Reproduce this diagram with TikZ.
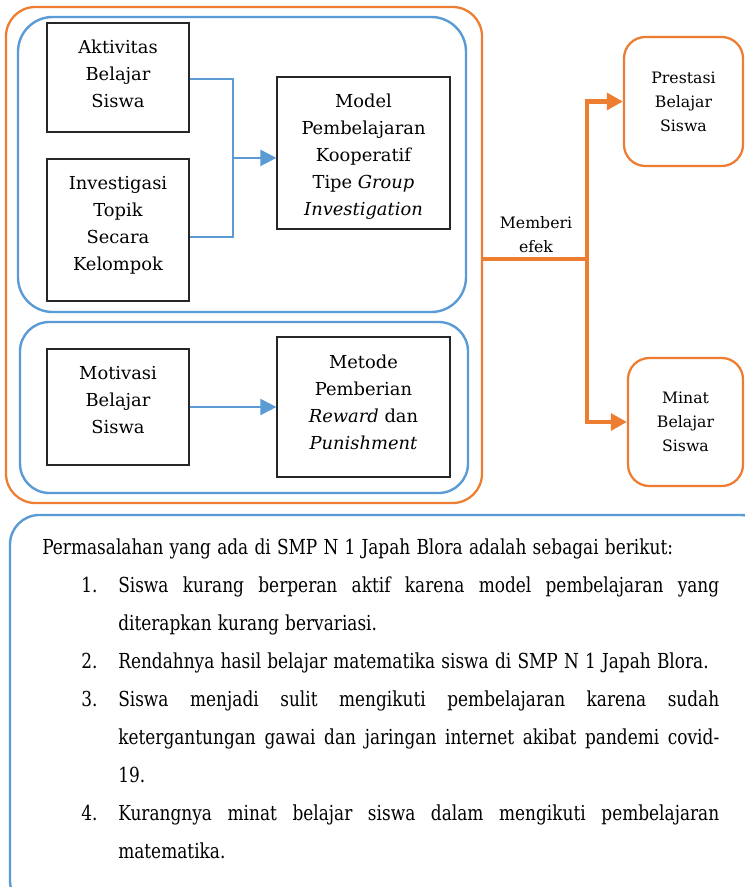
\documentclass[tikz,border=0pt]{standalone}
\usepackage{fontspec}
\setmainfont{DejaVu Serif}
\newfontfamily\condfont{DejaVu Serif}[FakeStretch=0.82]
\usetikzlibrary{arrows.meta,calc}
\definecolor{obor}{HTML}{ED7D31}
\definecolor{bbor}{HTML}{5B9BD5}
\begin{document}
\begin{tikzpicture}[x=0.75pt,y=-0.75pt,
  blk/.style={draw=black!85, line width=0.95pt, align=center, inner sep=0pt,
    font=\fontsize{13.4}{20.25}\selectfont},
  obx/.style={draw=obor, line width=1.7pt, rounded corners=16pt, align=center,
    inner sep=0pt, font=\fontsize{11.8}{18}\selectfont},
  grpbox/.style={draw=bbor, line width=1.8pt, inner sep=0pt},
  bline/.style={draw=bbor, line width=1.7pt},
  barrow/.style={bline, -{Triangle[length=12pt,width=12pt]}},
  oline/.style={draw=obor, line width=3.2pt},
  oarrow/.style={oline, -{Triangle[length=12pt,width=12.5pt]}},
  smalltxt/.style={align=center, inner sep=0pt, font=\fontsize{11.8}{18}\selectfont},
]
\useasboundingbox (0,0) rectangle (744,887);
\fill[white] (0,0) rectangle (744,887);

% outer orange group
\node (outer) at (244,255) [draw=obor, line width=1.7pt, rounded corners=22pt,
  minimum width=357pt, minimum height=372pt, inner sep=0pt] {};
% blue groups
\node (grp1) at (242,164.5) [grpbox, rounded corners=26pt,
  minimum width=336pt, minimum height=221.25pt] {};
\node (grp2) at (244,407.5) [grpbox, rounded corners=22pt,
  minimum width=336pt, minimum height=128.25pt] {};

% black boxes
\node (akt) at (118,77.5) [blk, minimum width=106.5pt, minimum height=81.75pt]
  {Aktivitas\\Belajar\\Siswa\\[-14.25pt]};
\node (inv) at (118,230) [blk, minimum width=106.5pt, minimum height=106.5pt]
  {Investigasi\\Topik\\Secara\\Kelompok\\[-10.5pt]};
\node (model) at (363.5,153) [blk, minimum width=129.75pt, minimum height=114pt]
  {\rule{0pt}{16pt}Model\\Pembelajaran\\Kooperatif\\Tipe \textit{Group}\\\textit{Investigation}};
\node (mot) at (118,407) [blk, minimum width=106.5pt, minimum height=87pt]
  {Motivasi\\Belajar\\Siswa\\[-9.75pt]};
\node (met) at (363.5,407) [blk, minimum width=129.75pt, minimum height=105pt]
  {Metode\\Pemberian\\\textit{Reward} dan\\\textit{Punishment}\\[-12.75pt]};

% blue connectors
\coordinate (ia) at ([yshift=-1pt]akt.east);
\coordinate (ib) at ([yshift=-5.25pt]inv.east);
\draw[bline] (ia) -- ++(43,0) coordinate (ja) |- (ib);
\coordinate (jm) at ($(ja)!0.5!(ja |- ib)$);
\draw[barrow] (jm) -- (jm -| model.west);
\draw[barrow] (mot.east) -- (met.west);

% right side boxes
\node (pres) at (683.5,101.5) [obx, minimum width=89.25pt, minimum height=96.75pt]
  {Prestasi\\Belajar\\Siswa};
\node (minat) at (685.5,422) [obx, minimum width=86.25pt, minimum height=96pt]
  {Minat\\Belajar\\Siswa};

% orange connectors
\coordinate (src) at ($(outer.east)+(0,4)$);
\coordinate (jn) at (587,259);
\draw[oline, line width=3.6pt] (src) -- (jn);
\draw[oarrow] (jn) |- (pres.west);
\draw[oarrow] (jn) |- (minat.west);
\node (lbl) at (536,235) [smalltxt] {Memberi\\efek};

% bottom problem box
\draw[bbor, line width=1.8pt, rounded corners=22pt] (10,515) rectangle (770,910);
\node (prob) at (42,539) [anchor=north west, inner sep=0pt, text width=507.75pt,
  font=\condfont\fontsize{15.5}{28.5}\selectfont] {%
  \parindent=0pt \parskip=0pt \hyphenpenalty=10000 \tolerance=10000
  \spaceskip=0.3em plus 0.6em minus 0.12em \xspaceskip=\spaceskip
  \leftskip=0pt \rightskip=0pt \parfillskip=0pt plus 1fil
  Permasalahan yang ada di SMP N 1 Japah Blora adalah sebagai berikut:\par
  \leftskip=57pt
  \noindent\llap{\makebox[27.75pt][l]{1.}}Siswa kurang berperan aktif karena model pembelajaran yang\linebreak diterapkan kurang bervariasi.\par
  \noindent\llap{\makebox[27.75pt][l]{2.}}Rendahnya hasil belajar matematika siswa di SMP N 1 Japah Blora.\par
  \noindent\llap{\makebox[27.75pt][l]{3.}}Siswa menjadi sulit mengikuti pembelajaran karena sudah\linebreak ketergantungan gawai dan jaringan internet akibat pandemi covid-\linebreak 19.\par
  \noindent\llap{\makebox[27.75pt][l]{4.}}Kurangnya minat belajar siswa dalam mengikuti pembelajaran\linebreak matematika.\par};
\end{tikzpicture}
\end{document}
